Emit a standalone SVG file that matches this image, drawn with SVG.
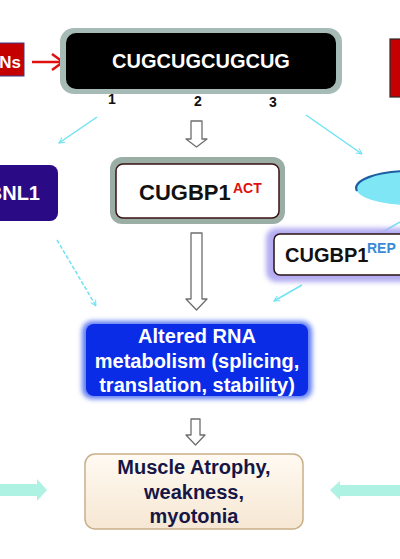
<svg xmlns="http://www.w3.org/2000/svg" width="400" height="559" viewBox="0 0 400 559">
<style>
  text{font-family:"Liberation Sans",Arial,sans-serif;font-weight:bold}
  .cy{stroke:#6fe3f2;stroke-width:1.5;fill:none}
  .hol{fill:#ffffff;stroke:#6e6e6e;stroke-width:1.3;stroke-linejoin:round}
  .thick{fill:#aef2e4}
</style>
<defs>
  <marker id="ah" viewBox="0 0 10 10" refX="9" refY="5" markerWidth="7" markerHeight="7" orient="auto" markerUnits="userSpaceOnUse">
    <path d="M1,1 L9,5 L1,9" fill="none" stroke="#6fe3f2" stroke-width="1.5"/>
  </marker>
  <filter id="glow" x="-10%" y="-20%" width="120%" height="140%">
    <feGaussianBlur stdDeviation="2.5"/>
  </filter>
  <linearGradient id="beige" x1="0" y1="0" x2="0" y2="1">
    <stop offset="0" stop-color="#fffaf2"/>
    <stop offset="1" stop-color="#f6e7d3"/>
  </linearGradient>
</defs>

<g id="connectors">
  <line class="cy" x1="97" y1="117" x2="59" y2="143" marker-end="url(#ah)"/>
  <line class="cy" x1="306" y1="115" x2="362" y2="154" marker-end="url(#ah)"/>
  <line class="cy" x1="57" y1="240" x2="96" y2="306" stroke-dasharray="4,2" marker-end="url(#ah)"/>
  <line class="cy" x1="400" y1="222" x2="376" y2="236" marker-end="url(#ah)"/>
  <line class="cy" x1="302" y1="285" x2="274" y2="301" marker-end="url(#ah)"/>
  <path class="hol" d="M191,121 H202 V139 H207 L196.5,147 L186,139 H191 Z"/>
  <path class="hol" d="M191,233 H202 V299 H207 L196.5,310 L186,299 H191 Z"/>
  <path class="hol" d="M191,419 H200 V435 H205 L195.5,445 L186,435 H191 Z"/>
  <path d="M32,62 H62 M52,54 L63,62 L52,70" fill="none" stroke="#e01010" stroke-width="2.5" stroke-linejoin="round"/>
  <path class="thick" d="M0,484 H37 V479 L47,490 L37,501 V496 H0 Z"/>
  <path class="thick" d="M400,485 H340 V481 L330,490 L340,500 V496 H400 Z"/>
</g>

<g id="node-ns">
  <rect x="-10" y="43" width="34" height="33" fill="#c40000" stroke="#3a3a8a" stroke-width="1"/>
  <text x="21" y="68" font-size="17" fill="#ffffff" text-anchor="end">Ns</text>
</g>

<g id="node-red-right">
  <rect x="390" y="39" width="14" height="58" fill="#c40000" stroke="#2a2a2a" stroke-width="1.2"/>
</g>

<g id="node-cug">
  <rect x="60" y="28" width="282" height="66" rx="14" fill="#a6bbb6"/>
  <rect x="66" y="33" width="270" height="56" rx="10" fill="#000000"/>
  <text x="201" y="68" font-size="20" fill="#ffffff" text-anchor="middle">CUGCUGCUGCUG</text>
  <text x="112" y="104" font-size="14" fill="#111111" text-anchor="middle">1</text>
  <text x="198" y="106" font-size="14" fill="#111111" text-anchor="middle">2</text>
  <text x="273" y="107" font-size="14" fill="#111111" text-anchor="middle">3</text>
</g>

<g id="node-mbnl1">
  <rect x="-40" y="165" width="98" height="56" rx="8" fill="#2b0a86"/>
  <text x="40" y="200" font-size="20" fill="#ffffff" text-anchor="end">MBNL1</text>
</g>

<g id="node-cugbp1-act">
  <rect x="110" y="157" width="175" height="67" rx="12" fill="#9aaea6"/>
  <rect x="116" y="164" width="163" height="54" rx="7" fill="#ffffff" stroke="#3a1212" stroke-width="1.5"/>
  <text x="139" y="200" font-size="22" fill="#111111">CUGBP1</text>
  <text x="233" y="193" font-size="14" fill="#e01010">ACT</text>
</g>

<g id="node-ellipse">
  <ellipse cx="410" cy="188" rx="54" ry="17" fill="#7fe6f6"/>
  <path d="M357,191 A54,17 0 0 1 410,171" fill="none" stroke="#1d5ea0" stroke-width="2.2"/>
</g>

<g id="node-cugbp1-rep">
  <rect x="266" y="228" width="150" height="54" rx="10" fill="#b4acf2" filter="url(#glow)"/>
  <rect x="274" y="234" width="140" height="41" rx="6" fill="#ffffff" stroke="#2a1212" stroke-width="1.5"/>
  <text x="285" y="262" font-size="20" fill="#111111">CUGBP1</text>
  <text x="367" y="253" font-size="14" fill="#3a8ad8">REP</text>
</g>

<g id="node-rna">
  <rect x="82" y="321" width="230" height="78" rx="10" fill="#5f7cf2" filter="url(#glow)"/>
  <rect x="86" y="324" width="222" height="72" rx="8" fill="#0a2ce6"/>
  <text x="197" y="343" font-size="20" fill="#ffffff" text-anchor="middle">Altered RNA</text>
  <text x="197" y="368" font-size="20" fill="#ffffff" text-anchor="middle">metabolism (splicing,</text>
  <text x="197" y="392" font-size="20" fill="#ffffff" text-anchor="middle">translation, stability)</text>
</g>

<g id="node-muscle">
  <rect x="85" y="454" width="218" height="75" rx="10" fill="url(#beige)" stroke="#c9b089" stroke-width="1.5"/>
  <text x="194" y="474" font-size="20" fill="#161646" text-anchor="middle">Muscle Atrophy,</text>
  <text x="194" y="499" font-size="20" fill="#161646" text-anchor="middle">weakness,</text>
  <text x="194" y="523" font-size="20" fill="#161646" text-anchor="middle">myotonia</text>
</g>
</svg>
